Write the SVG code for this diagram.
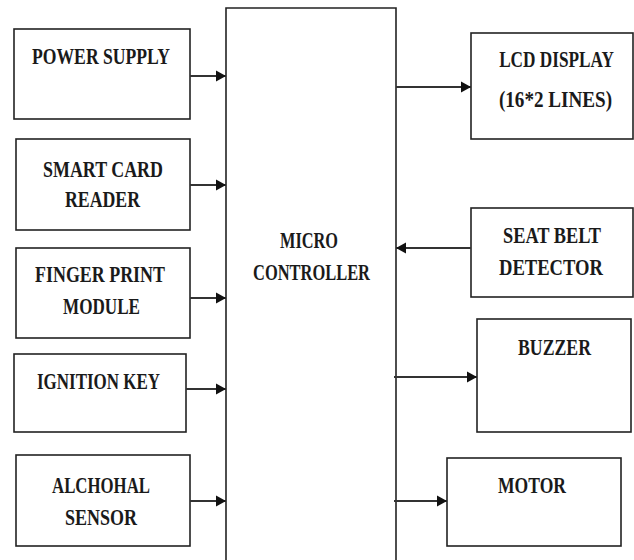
<svg xmlns="http://www.w3.org/2000/svg" width="634" height="560" viewBox="0 0 634 560">
<style>
.box{fill:#fff;stroke:#222;stroke-width:1.6}
.lbl{font-family:"Liberation Serif","DejaVu Serif",serif;font-weight:bold;font-size:24px;fill:#1a1a1a;text-anchor:middle}
.arr{stroke:#333;stroke-width:2.2;fill:none;marker-end:url(#ah)}
</style>
<defs>
<marker id="ah" markerUnits="userSpaceOnUse" markerWidth="11" markerHeight="12" refX="10" refY="6" orient="auto">
<path d="M0,0.5 L10,6 L0,11.5 Z" fill="#111"/>
</marker>
</defs>
<rect width="634" height="560" fill="#fff"/>
<g id="micro-controller">
<path class="box" d="M226,560 V8 H396 V560"/>
<text class="lbl" x="309" y="248" textLength="58" lengthAdjust="spacingAndGlyphs">MICRO</text>
<text class="lbl" x="311.5" y="280" textLength="117" lengthAdjust="spacingAndGlyphs">CONTROLLER</text>
</g>
<g id="power-supply">
<rect class="box" x="14" y="29" width="176" height="90"/>
<text class="lbl" x="101" y="64" textLength="138" lengthAdjust="spacingAndGlyphs">POWER SUPPLY</text>
</g>
<g id="smart-card-reader">
<rect class="box" x="16" y="139" width="174" height="91"/>
<text class="lbl" x="103" y="177" textLength="120" lengthAdjust="spacingAndGlyphs">SMART CARD</text>
<text class="lbl" x="102.5" y="207" textLength="75" lengthAdjust="spacingAndGlyphs">READER</text>
</g>
<g id="finger-print-module">
<rect class="box" x="16" y="248" width="174" height="90"/>
<text class="lbl" x="100" y="282" textLength="130" lengthAdjust="spacingAndGlyphs">FINGER PRINT</text>
<text class="lbl" x="101.5" y="314" textLength="77" lengthAdjust="spacingAndGlyphs">MODULE</text>
</g>
<g id="ignition-key">
<rect class="box" x="14" y="354" width="172" height="78"/>
<text class="lbl" x="98.5" y="389" textLength="123" lengthAdjust="spacingAndGlyphs">IGNITION KEY</text>
</g>
<g id="alchohal-sensor">
<rect class="box" x="16" y="455" width="174" height="91"/>
<text class="lbl" x="101" y="493" textLength="98" lengthAdjust="spacingAndGlyphs">ALCHOHAL</text>
<text class="lbl" x="101" y="525" textLength="72" lengthAdjust="spacingAndGlyphs">SENSOR</text>
</g>
<g id="lcd-display">
<rect class="box" x="471" y="33" width="162" height="106"/>
<text class="lbl" transform="translate(556.5,67) scale(0.75,1)" x="0" y="0" textLength="153" lengthAdjust="spacingAndGlyphs">LCD DISPLAY</text>
<text class="lbl" transform="translate(555.5,107) scale(0.75,1)" x="0" y="0" textLength="151" lengthAdjust="spacingAndGlyphs">(16*2 LINES)</text>
</g>
<g id="seat-belt-detector">
<rect class="box" x="471" y="208" width="162" height="89"/>
<text class="lbl" x="552" y="243" textLength="98" lengthAdjust="spacingAndGlyphs">SEAT BELT</text>
<text class="lbl" x="551" y="275" textLength="104" lengthAdjust="spacingAndGlyphs">DETECTOR</text>
</g>
<g id="buzzer">
<rect class="box" x="477" y="319" width="154" height="113"/>
<text class="lbl" x="554.5" y="355" textLength="73" lengthAdjust="spacingAndGlyphs">BUZZER</text>
</g>
<g id="motor">
<rect class="box" x="447" y="458" width="174" height="88"/>
<text class="lbl" x="532" y="493" textLength="68" lengthAdjust="spacingAndGlyphs">MOTOR</text>
</g>
<g id="connectors">
<line class="arr" x1="190" y1="76" x2="226" y2="76"/>
<line class="arr" x1="190" y1="185" x2="226" y2="185"/>
<line class="arr" x1="190" y1="298" x2="226" y2="298"/>
<line class="arr" x1="186" y1="389" x2="226" y2="389"/>
<line class="arr" x1="190" y1="501" x2="226" y2="501"/>
<line class="arr" x1="396" y1="87" x2="471" y2="87"/>
<line class="arr" x1="471" y1="248" x2="396" y2="248"/>
<line class="arr" x1="394" y1="377" x2="477" y2="377"/>
<line class="arr" x1="394" y1="501" x2="447" y2="501"/>
</g>
</svg>
